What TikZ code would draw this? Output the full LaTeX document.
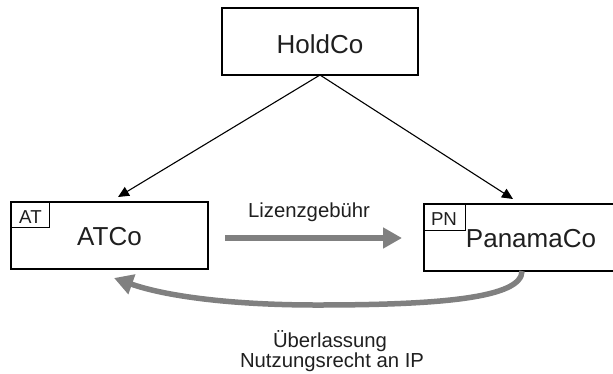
\documentclass[tikz,border=0pt]{standalone}
\usepackage{fontspec}
\setmainfont{Liberation Sans}
\usetikzlibrary{arrows.meta}
\begin{document}
\begin{tikzpicture}[x=1pt,y=-1pt,
  box/.style={draw,line width=1.5pt},
  tagbox/.style={draw,line width=0.9pt},
  txt/.style={anchor=base,inner sep=0pt,text=black!88},
  big/.style={txt,font=\fontsize{26}{28}\selectfont},
  lab/.style={txt,font=\fontsize{20.3}{20}\selectfont},
  tagtxt/.style={txt,font=\fontsize{18.7}{20}\selectfont},
  thin/.style={-{Triangle[length=11pt,width=10pt]},line width=1.1pt},
  fat/.style={-{Triangle[length=19pt,width=20pt]},line width=6pt,draw=black!50}]
\useasboundingbox (0,0) rectangle (613,373);
% boxes
\draw[box] (222,8) rectangle (418,75);
\draw[box] (11,202) rectangle (208,269);
\draw[box] (424,204) rectangle (616,271);
\draw[tagbox] (11,202) rectangle (49,227);
\draw[tagbox] (424,204) rectangle (465,230);
% texts
\node[big] (hold) at (320,53) {HoldCo};
\node[big] (at) at (109.5,245) {ATCo};
\node[big] (pa) at (531,247) {PanamaCo};
\node[tagtxt] (attag) at (30.5,223) {AT};
\node[tagtxt] (pntag) at (444,225) {PN};
\node[lab] (liz) at (309,217) {Lizenzgebühr};
\node[lab] (ub1) at (330,347) {Überlassung};
\node[lab] (ub2) at (332,367) {Nutzungsrecht an IP};
% connectors
\coordinate (holdb) at (320,75);
\coordinate (att) at (118,197);
\coordinate (pat) at (513,199);
\draw[thin] (holdb) -- (att);
\draw[thin] (holdb) -- (pat);
\coordinate (g1) at (225,238);
\coordinate (g2) at (402,238);
\draw[fat] (g1) -- (g2);
\coordinate (c1) at (522,271);
\coordinate (c2) at (114,278);
\draw[fat,line width=5.5pt] (c1) .. controls (522,298) and (440,305) .. (317,305) .. controls (230,305) and (165,296) .. (c2);
\end{tikzpicture}
\end{document}
